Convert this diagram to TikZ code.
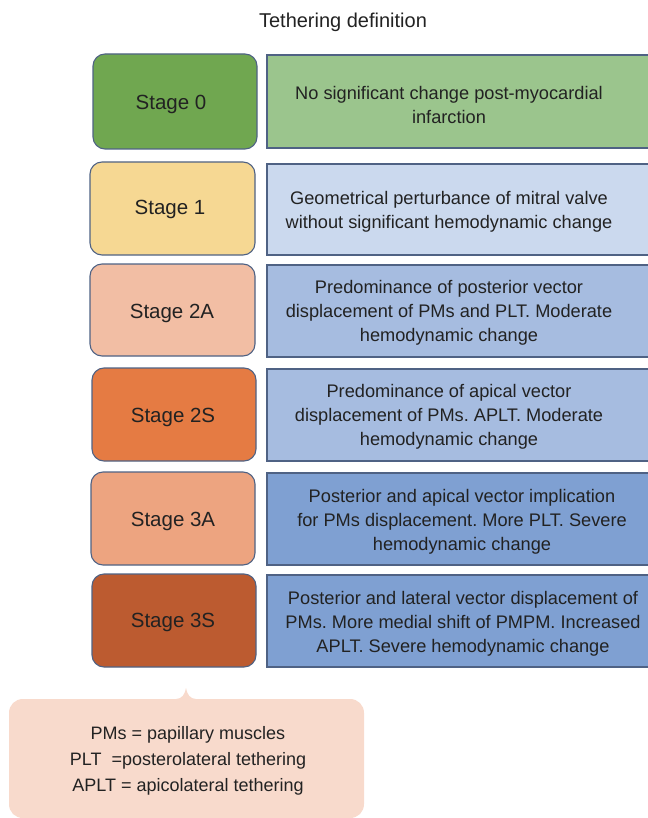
\documentclass[tikz,border=0pt]{standalone}
\usepackage{fontspec}
\setmainfont{Liberation Sans}
\frenchspacing
\definecolor{edge}{HTML}{4F6284}
\definecolor{txt}{HTML}{222222}
\definecolor{gA}{HTML}{70A750}
\definecolor{gB}{HTML}{9BC58D}
\definecolor{yA}{HTML}{F6D893}
\definecolor{yB}{HTML}{CBD9EE}
\definecolor{pA}{HTML}{F2BEA4}
\definecolor{bA}{HTML}{A6BCE0}
\definecolor{oA}{HTML}{E57B43}
\definecolor{sA}{HTML}{EDA480}
\definecolor{bB}{HTML}{7FA0D2}
\definecolor{rA}{HTML}{BC5B30}
\definecolor{callc}{HTML}{F8DACC}
\begin{document}
\begin{tikzpicture}[x=1pt,y=-1pt,
  stagebox/.style={draw=edge,line width=1.1pt,rounded corners=12pt},
  stagetext/.style={text=txt,font=\fontsize{20.5}{24}\selectfont},
  descbox/.style={draw=edge,line width=1.1pt},
  desctext/.style={text=txt,align=center,font=\fontsize{18.2}{24}\selectfont},
  calltext/.style={text=txt,align=center,font=\fontsize{18}{26}\selectfont}]
\useasboundingbox (0,0) rectangle (647,818);
\node[text=txt,font=\fontsize{20}{24}\selectfont] (title) at (343,22) {Tethering definition};
% Stage 0
\draw[stagebox,fill=gA] (93,54) rectangle (257,149);
\node[stagetext] (s0) at (171,104) {Stage 0};
\draw[descbox,fill=gB] (267,55) rectangle (660,148);
\node[desctext] (d0) at (449,105) {No significant change post-myocardial\\infarction};
% Stage 1
\draw[stagebox,fill=yA] (90,162) rectangle (255,255);
\node[stagetext] (s1) at (170,209) {Stage 1};
\draw[descbox,fill=yB] (267,164) rectangle (660,255);
\node[desctext] (d1) at (449,212) {Geometrical perturbance of mitral valve\\without significant hemodynamic change};
% Stage 2A
\draw[stagebox,fill=pA] (90,264) rectangle (255,356);
\node[stagetext] (s2a) at (172,313) {Stage 2A};
\draw[descbox,fill=bA] (267,265) rectangle (660,357);
\node[desctext] (d2a) at (449,313) {Predominance of posterior vector\\displacement of PMs and PLT. Moderate\\hemodynamic change};
% Stage 2S
\draw[stagebox,fill=oA] (92,368) rectangle (256,461);
\node[stagetext] (s2s) at (173,417) {Stage 2S};
\draw[descbox,fill=bA] (267,369) rectangle (660,461);
\node[desctext] (d2s) at (449,417) {Predominance of apical vector\\displacement of PMs. APLT. Moderate\\hemodynamic change};
% Stage 3A
\draw[stagebox,fill=sA] (91,472) rectangle (255,565);
\node[stagetext] (s3a) at (173,521) {Stage 3A};
\draw[descbox,fill=bB] (267,473) rectangle (660,565);
\node[desctext] (d3a) at (462,522) {Posterior and apical vector implication\\for PMs displacement. More PLT. Severe\\hemodynamic change};
% Stage 3S
\draw[stagebox,fill=rA] (92,574) rectangle (256,667);
\node[stagetext] (s3s) at (173,622) {Stage 3S};
\draw[descbox,fill=bB] (267,575) rectangle (660,667);
\node[desctext] (d3s) at (463,624) {Posterior and lateral vector displacement of\\PMs. More medial shift of PMPM. Increased\\APLT. Severe hemodynamic change};
% callout
\fill[callc] (23,699) -- (176,699) .. controls (182,699) and (185,694) .. (186,688)
  .. controls (187,694) and (190,699) .. (196,699) -- (350,699)
  .. controls (358,699) and (364,705) .. (364,713) -- (364,804)
  .. controls (364,812) and (358,818) .. (350,818) -- (23,818)
  .. controls (15,818) and (9,812) .. (9,804) -- (9,713)
  .. controls (9,705) and (15,699) .. (23,699) -- cycle;
\node[calltext] (legend) at (188,761) {PMs = papillary muscles\\PLT\ \ =posterolateral tethering\\APLT = apicolateral tethering};
\end{tikzpicture}
\end{document}
